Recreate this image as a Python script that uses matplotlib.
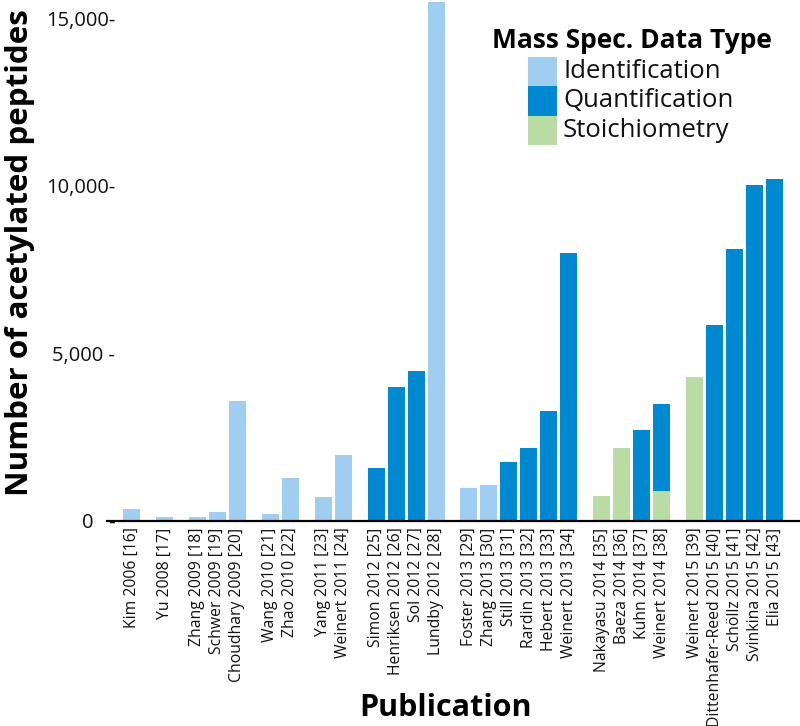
import matplotlib
matplotlib.use("Agg")
import matplotlib.pyplot as plt
from matplotlib.patches import Rectangle

# ---------------- data ----------------
publications = [
    "Kim 2006 [16]", "Yu 2008 [17]",
    "Zhang 2009 [18]", "Schwer 2009 [19]", "Choudhary 2009 [20]",
    "Wang 2010 [21]", "Zhao 2010 [22]",
    "Yang 2011 [23]", "Weinert 2011 [24]",
    "Simon 2012 [25]", "Henriksen 2012 [26]", "Sol 2012 [27]", "Lundby 2012 [28]",
    "Foster 2013 [29]", "Zhang 2013 [30]", "Still 2013 [31]", "Rardin 2013 [32]",
    "Hebert 2013 [33]", "Weinert 2013 [34]",
    "Nakayasu 2014 [35]", "Baeza 2014 [36]", "Kuhn 2014 [37]", "Weinert 2014 [38]",
    "Weinert 2015 [39]", "Dittenhafer-Reed 2015 [40]", "Schöllz 2015 [41]",
    "Svinkina 2015 [42]", "Elia 2015 [43]",
]
years = [2006, 2008, 2009, 2009, 2009, 2010, 2010, 2011, 2011,
         2012, 2012, 2012, 2012,
         2013, 2013, 2013, 2013, 2013, 2013,
         2014, 2014, 2014, 2014,
         2015, 2015, 2015, 2015, 2015]
identification = [340, 90, 100, 240, 3580, 190, 1270, 700, 1950,
                  0, 0, 0, 15500,
                  970, 1050, 0, 0, 0, 0,
                  0, 0, 0, 0,
                  0, 0, 0, 0, 0]
quantification = [0, 0, 0, 0, 0, 0, 0, 0, 0,
                  1560, 3980, 4470, 0,
                  0, 0, 1760, 2160, 3260, 8000,
                  0, 0, 2710, 2620,
                  0, 5850, 8120, 10010, 10190]
stoichiometry = [0, 0, 0, 0, 0, 0, 0, 0, 0,
                 0, 0, 0, 0,
                 0, 0, 0, 0, 0, 0,
                 720, 2180, 0, 870,
                 4290, 0, 0, 0, 0]
series_names = ["Identification", "Quantification", "Stoichiometry"]
colors = ["#9fcef0", "#0089d1", "#b8dca3"]
yticks = [0, 5000, 10000, 15000]
ytick_labels = ["0   -", "5,000 -", "10,000-", "15,000-"]

# ---------------- layout ----------------
plt.rcParams['font.family'] = ['Open Sans', 'DejaVu Sans']
W, H = 800, 726
fig = plt.figure(figsize=(W / 100, H / 100), dpi=100)
ax = fig.add_axes([107 / W, (H - 520.5) / H, 693 / W, 520.5 / H])

gap = 0.65
pos = []
x = 0.0
prev = None
for yr in years:
    if prev is not None:
        x += 1 + (gap if yr != prev else 0)
    pos.append(x)
    prev = yr

width = 0.85
bottom = [0] * len(pos)
stack_order = [(stoichiometry, 2), (identification, 0), (quantification, 1)]
for vals, ci in stack_order:
    ax.bar(pos, vals, width=width, bottom=bottom, color=colors[ci],
           linewidth=0, label=series_names[ci])
    bottom = [b + v for b, v in zip(bottom, vals)]

ax.set_xlim(pos[0] - 1.225, pos[-1] + 1.275)
ax.set_ylim(0, 15550)

for s in ["top", "right", "left"]:
    ax.spines[s].set_visible(False)
ax.spines["bottom"].set_linewidth(1.6)
ax.spines["bottom"].set_color("black")

ax.set_xticks(pos)
ax.set_xticklabels(publications, rotation=90, fontsize=11.3, color="#111111")
ax.tick_params(axis="x", length=0, pad=5)

ax.set_yticks(yticks)
ax.set_yticklabels(ytick_labels, fontsize=14.5, color="#111111")
ax.tick_params(axis="y", length=0, pad=-6)

ax.set_ylabel("Number of acetylated peptides", fontsize=22.6, fontweight="bold",
              va="center")
ax.yaxis.set_label_coords((20 - 107) / 693, 0.515)
ax.set_xlabel("Publication", fontsize=22, fontweight="bold", va="baseline")
ax.xaxis.set_label_coords((445 - 107) / 693, -(716 - 520.5) / 520.5)

# ---------------- legend (manual, contiguous swatches) ----------------
def fx(px):
    return px / W

def fy(py):
    return 1 - py / H

fig.text(fx(632), fy(48), "Mass Spec. Data Type", fontsize=19, fontweight="bold",
         ha="center", va="baseline")
sw_top = 57
sw_h = 29.3
for i, name in enumerate(series_names):
    t = sw_top + i * sw_h
    fig.add_artist(Rectangle((fx(528), fy(t + sw_h)), fx(557) - fx(528),
                             sw_h / H, transform=fig.transFigure,
                             facecolor=colors[i], edgecolor="none"))
    fig.text(fx(563), fy(t + 21), name, fontsize=18.5, ha="left", va="baseline",
             color="#111111")

fig.savefig("out.png", dpi=100)
